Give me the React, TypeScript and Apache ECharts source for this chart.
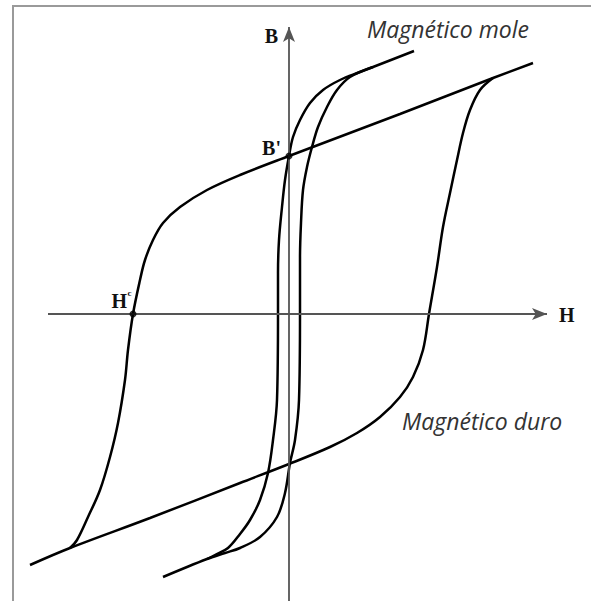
import React, { useEffect, useRef } from "react";
import * as echarts from "echarts";

// B–H hysteresis loops (arbitrary units): H horizontal, B vertical.
// Hard magnetic material, branch coming down from positive saturation.
const hardDescending: [number, number][] = [
  [244, 251], [204, 236], [111, 200], [0, 158], [-49, 139], [-82, 124],
  [-109, 107], [-126, 91], [-136, 74], [-144, 54], [-149, 34], [-156, 0],
  [-161, -36], [-164, -66], [-171, -109], [-179, -143], [-189, -176],
  [-201, -203], [-212, -226], [-219, -234],
];
// Hard magnetic material, branch going up from negative saturation.
const hardAscending: [number, number][] = [
  [-259, -251], [-219, -234], [-139, -204], [-49, -169], [0, -150],
  [41, -133], [68, -119], [91, -103], [111, -83], [124, -63], [134, -36],
  [140, 0], [148, 47], [154, 87], [161, 121], [168, 154], [174, 181],
  [181, 204], [191, 224], [204, 236],
];
// Soft magnetic material, descending branch.
const softDescending: [number, number][] = [
  [125, 263], [84, 247], [71, 242], [51, 234], [34, 224], [21, 211],
  [11, 194], [4, 177], [0, 158], [-4, 134], [-7, 107], [-10, 74],
  [-11, 41], [-11, 0], [-12, -86], [-16, -126], [-21, -159], [-29, -186],
  [-39, -206], [-49, -220], [-61, -234], [-74, -241], [-82, -245],
];
// Soft magnetic material, ascending branch.
const softAscending: [number, number][] = [
  [-126, -263], [-82, -245], [-64, -239], [-49, -234], [-29, -223],
  [-12, -203], [-4, -179], [1, -149], [6, -126], [10, -86], [11, 0],
  [11, 57], [12, 91], [14, 124], [18, 147], [23, 167], [29, 187],
  [38, 207], [48, 224], [61, 237], [84, 247],
];

// Remanence B' and coercive field Hc of the hard material.
const remanencePoint: [number, number] = [0, 158];
const coercivePoint: [number, number] = [-156, 0];

// Drawn extent of the H and B axes (arrow at the positive end).
const hAxisExtent: [number, number] = [-241, 258];
const bAxisExtent: [number, number] = [-287, 287];

// Visible window of the plane.
const hRange: [number, number] = [-289, 302];
const bRange: [number, number] = [-287, 314];

const softLabel = "Magnético mole";
const hardLabel = "Magnético duro";

const curveStyle = { color: "#000", width: 2.5 };
const serifBold = 'bold 20px "Liberation Serif", "Times New Roman", serif';
const italicSans = 'italic 23px "Open Sans", "Noto Sans", sans-serif';

export default function App() {
  const ref = useRef<HTMLDivElement>(null);

  useEffect(() => {
    if (!ref.current) return;
    const chart = echarts.init(ref.current, undefined, { renderer: "svg" });

    const branch = (name: string, data: [number, number][]) => ({
      name,
      type: "line",
      data,
      showSymbol: false,
      smooth: 0.35,
      lineStyle: curveStyle,
      silent: true,
      z: 3,
    });

    chart.setOption({
      animation: false,
      backgroundColor: "#fff",
      grid: { left: 0, right: 0, top: 0, bottom: 0 },
      xAxis: { type: "value", min: hRange[0], max: hRange[1], show: false },
      yAxis: { type: "value", min: bRange[0], max: bRange[1], show: false },
      series: [
        branch("hardDown", hardDescending),
        branch("hardUp", hardAscending),
        branch("softDown", softDescending),
        branch("softUp", softAscending),
        {
          name: "points",
          type: "scatter",
          data: [remanencePoint, coercivePoint],
          symbolSize: 7,
          itemStyle: { color: "#000" },
          silent: true,
          z: 5,
          markLine: {
            silent: true,
            symbol: ["none", "arrow"],
            symbolSize: [9, 15],
            label: { show: false },
            lineStyle: { color: "#555", width: 1.8, type: "solid" },
            data: [
              [{ coord: [hAxisExtent[0], 0] }, { coord: [hAxisExtent[1], 0] }],
              [{ coord: [0, bAxisExtent[0]] }, { coord: [0, bAxisExtent[1]] }],
            ],
          },
        },
      ],
    });

    const px = (p: [number, number]) =>
      chart.convertToPixel({ gridIndex: 0 }, p) as number[];

    const bTip = px([0, bAxisExtent[1]]);
    const hTip = px([hAxisExtent[1], 0]);
    const br = px(remanencePoint);
    const hc = px(coercivePoint);
    const softEnd = px(softDescending[0]);
    const hardAnchor = px([111, -83]);

    const text = (
      x: number,
      y: number,
      str: string,
      font: string,
      align: string,
      fill = "#111"
    ) => ({
      type: "text",
      x,
      y,
      silent: true,
      style: {
        text: str,
        font,
        fill,
        align,
        textAlign: align,
        verticalAlign: "middle",
        textVerticalAlign: "middle",
      },
    });

    chart.setOption({
      graphic: [
        {
          type: "rect",
          silent: true,
          shape: { x: 13, y: 6, width: 700, height: 700 },
          style: { fill: "none", stroke: "#9a9a9a", lineWidth: 2 },
        },
        text(bTip[0] - 11, bTip[1] + 9, "B", serifBold, "right"),
        text(hTip[0] + 12, hTip[1] + 1, "H", serifBold, "left"),
        text(br[0] - 8, br[1] - 8, "B'", serifBold, "right"),
        text(hc[0] - 6, hc[1] - 13, "H", serifBold, "right"),
        text(hc[0] - 5.5, hc[1] - 21, "c", 'bold 9px "Liberation Serif", serif', "left"),
        text(softEnd[0] - 47, softEnd[1] - 22, softLabel, italicSans, "left", "#333"),
        text(hardAnchor[0] + 2, hardAnchor[1] + 24, hardLabel, italicSans, "left", "#333"),
      ],
    });

    return () => chart.dispose();
  }, []);

  return (
    <div
      ref={ref}
      style={{ position: "fixed", left: 0, top: 0, width: 591, height: 601, background: "#fff" }}
    />
  );
}
